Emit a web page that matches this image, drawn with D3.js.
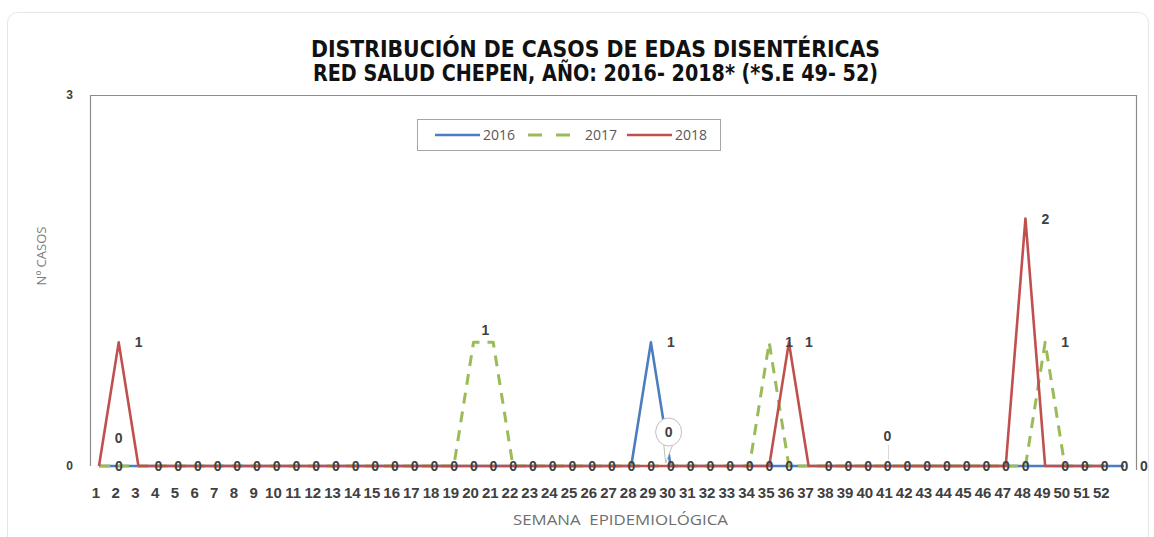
<!DOCTYPE html>
<html lang="es">
<head>
<meta charset="utf-8">
<script src="https://d3js.org/d3.v7.min.js"></script>
<style type="text/css">
body{
  margin: 0;
  padding: 0;
  background: white;
  font-family: "Liberation Sans", Arial, sans-serif;
}
</style>
</head>
<body>
<div id="chart"></div>

<script type="text/javascript">

// semanas epidemiologicas (53 categorias, solo 1-52 llevan etiqueta)
var weeks = d3.range(1, 54);
var tickWeeks = d3.range(1, 53);

// casos por semana
var cases2016 = [0,0,0,0,0,0,0,0,0,0, 0,0,0,0,0,0,0,0,0,0, 0,0,0,0,0,0,0,0,1,0,
                 0,0,0,0,0,0,0,0,0,0, 0,0,0,0,0,0,0,0,0,0, 0,0,0];
var cases2017 = [0,0,0,0,0,0,0,0,0,0, 0,0,0,0,0,0,0,0,0,1, 1,0,0,0,0,0,0,0,0,0,
                 0,0,0,0,1,0,0,0,0,0, 0,0,0,0,0,0,0,0,1,0, 0,0];
var cases2018 = [0,1,0,0,0,0,0,0,0,0, 0,0,0,0,0,0,0,0,0,0, 0,0,0,0,0,0,0,0,0,0,
                 0,0,0,0,0,1,0,0,0,0, 0,0,0,0,0,0,0,2,0,0, 0,0];

var seriesNames = ["2016", "2017", "2018"];
var yTicks = [0, 3];

// etiquetas de datos movidas a mano en el original
var movedLabels = [
  {serie: "2017", week: 2, lift: 28, kind: "plain"},
  {serie: "2016", week: 30, lift: 34, kind: "bubble"},
  {serie: "2017", week: 41, lift: 30, kind: "leader"}
];

function drawChart(){

  var width = 1154;
  var height = 537;

  var svg = d3.select("#chart")
      .append("svg")
      .attr("width", width)
      .attr("height", height);

  // chart area border
  svg.append("rect")
      .attr("x", 7.5).attr("y", 12.5)
      .attr("width", 1141).attr("height", 540)
      .attr("rx", 10)
      .style("fill", "white")
      .style("stroke", "#e6e6e6");

  var x = d3.scaleLinear().domain([1, 53]).range([99, 1124]);
  var y = d3.scaleLinear().domain([0, 3]).range([466, 95]);

  var colors = {"2016": "#4a7ebf", "2017": "#9bbb59", "2018": "#c0504d"};
  var dashes = {"2016": null, "2017": "11,8", "2018": null};
  var data = {"2016": cases2016, "2017": cases2017, "2018": cases2018};

  // title
  var title = svg.append("g")
      .style("font-family", "'Liberation Sans Narrow', 'DejaVu Sans Condensed', sans-serif")
      .style("font-weight", "bold")
      .style("font-size", "23px")
      .style("fill", "#111");
  title.append("text").attr("x", 311).attr("y", 57)
      .attr("textLength", 569).attr("lengthAdjust", "spacingAndGlyphs")
      .text("DISTRIBUCIÓN DE CASOS DE EDAS DISENTÉRICAS");
  title.append("text").attr("x", 313).attr("y", 81)
      .attr("textLength", 565).attr("lengthAdjust", "spacingAndGlyphs")
      .text("RED SALUD CHEPEN, AÑO: 2016- 2018* (*S.E 49- 52)");

  // plot frame (left axis, top and right border)
  svg.append("path")
      .attr("d", "M" + 90.5 + "," + y(0) + "V" + (y(3) + 0.5) + "H" + 1136.5 + "V" + (y(0) + 4))
      .style("fill", "none")
      .style("stroke", "#8c8c8c")
      .style("stroke-width", 1.2);

  // y ticks
  svg.selectAll(".ytick")
      .data(yTicks)
      .enter().append("text")
      .attr("class", "ytick")
      .attr("x", 73)
      .attr("y", function(d){ return y(d) + 4; })
      .attr("text-anchor", "end")
      .style("font-size", "12px")
      .style("font-weight", "bold")
      .style("fill", "#404040")
      .text(function(d){ return d; });

  // y title
  svg.append("text")
      .attr("transform", "translate(46,256) rotate(-90)")
      .attr("text-anchor", "middle")
      .style("font-family", "'Open Sans', sans-serif")
      .style("font-size", "13px")
      .style("fill", "#7a7a7a")
      .text("Nº CASOS");

  // x ticks
  svg.selectAll(".xtick")
      .data(tickWeeks)
      .enter().append("text")
      .attr("class", "xtick")
      .attr("x", function(d){ return x(d) - 3; })
      .attr("y", 498)
      .attr("text-anchor", "middle")
      .style("font-size", "15px")
      .style("font-weight", "bold")
      .style("fill", "#404040")
      .text(function(d){ return d; });

  // x title
  svg.append("text")
      .attr("x", 513).attr("y", 525)
      .attr("textLength", 215).attr("lengthAdjust", "spacingAndGlyphs")
      .style("font-family", "'Open Sans', sans-serif")
      .style("font-size", "14px")
      .style("fill", "#6e6e6e")
      .style("white-space", "pre")
      .text("SEMANA  EPIDEMIOLÓGICA");

  // lines
  var line = d3.line()
      .x(function(d, i){ return x(weeks[i]); })
      .y(function(d){ return y(d); });

  seriesNames.forEach(function(name){
    svg.append("path")
        .datum(data[name])
        .attr("d", line)
        .style("fill", "none")
        .style("stroke", colors[name])
        .style("stroke-width", name == "2017" ? 3 : 2.6)
        .style("stroke-dasharray", dashes[name])
        .style("stroke-linejoin", "round");
  });

  // data labels (position: right of the point)
  var labels = [];
  cases2018.forEach(function(v, i){
    labels.push({x: x(weeks[i]) + 20, y: y(v), v: v});
  });
  ["2016", "2017"].forEach(function(name){
    var vals = data[name];
    vals.forEach(function(v, i){
      if (v > 0 && vals[i - 1] == v) return;
      if (v > 0 && vals[i + 1] == v) {
        // flat top: one label centered above
        labels.push({x: (x(weeks[i]) + x(weeks[i + 1])) / 2 + 2, y: y(v) - 12, v: v});
      } else if (v > 0 || (name == "2016" && i == vals.length - 1)) {
        labels.push({x: x(weeks[i]) + 20, y: y(v), v: v});
      }
    });
  });

  var lab = svg.append("g")
      .style("font-size", "14px")
      .style("font-weight", "bold")
      .style("fill", "#404040");

  lab.selectAll("text")
      .data(labels)
      .enter().append("text")
      .attr("x", function(d){ return d.x; })
      .attr("y", function(d){ return d.y + 5; })
      .attr("text-anchor", "middle")
      .text(function(d){ return d.v; });

  movedLabels.forEach(function(m){
    var px = x(m.week);
    var py = y(data[m.serie][m.week - 1]);
    var ly = py - m.lift;
    if (m.kind == "bubble") {
      svg.append("path")
          .attr("d", "M" + (px - 7) + "," + (ly + 11) + "L" + (px - 5) + "," + (py - 3) +
                "L" + (px + 2) + "," + (ly + 13))
          .style("fill", "white").style("stroke", "#bfbfbf");
      svg.append("ellipse")
          .attr("cx", px - 2).attr("cy", ly)
          .attr("rx", 13).attr("ry", 14)
          .style("fill", "white").style("stroke", "#bfbfbf");
    }
    if (m.kind == "leader") {
      svg.append("line")
          .attr("x1", px + 1).attr("x2", px + 1)
          .attr("y1", ly + 9).attr("y2", py - 6)
          .style("stroke", "#d9d9d9");
    }
    svg.append("text")
        .attr("x", m.kind == "bubble" ? px - 2 : px)
        .attr("y", ly + 5)
        .attr("text-anchor", "middle")
        .style("font-size", "14px")
        .style("font-weight", "bold")
        .style("fill", "#404040")
        .text(data[m.serie][m.week - 1]);
  });

  // legend
  var legend = svg.append("g");
  legend.append("rect")
      .attr("x", 417.5).attr("y", 119.5)
      .attr("width", 303).attr("height", 31)
      .style("fill", "white")
      .style("stroke", "#a6a6a6");

  var legendX = [435, 528, 627];
  seriesNames.forEach(function(name, i){
    legend.append("line")
        .attr("x1", legendX[i]).attr("x2", legendX[i] + (name == "2017" ? 52 : 45))
        .attr("y1", 135).attr("y2", 135)
        .style("stroke", colors[name])
        .style("stroke-width", name == "2017" ? 3 : 2.6)
        .style("stroke-dasharray", name == "2017" ? "14,14" : null);
    legend.append("text")
        .attr("x", legendX[i] + (name == "2017" ? 57 : 48))
        .attr("y", 140)
        .style("font-family", "'Open Sans', sans-serif")
        .style("font-size", "14px")
        .style("fill", "#595959")
        .text(name);
  });
}

drawChart();

</script>
</body>
</html>
